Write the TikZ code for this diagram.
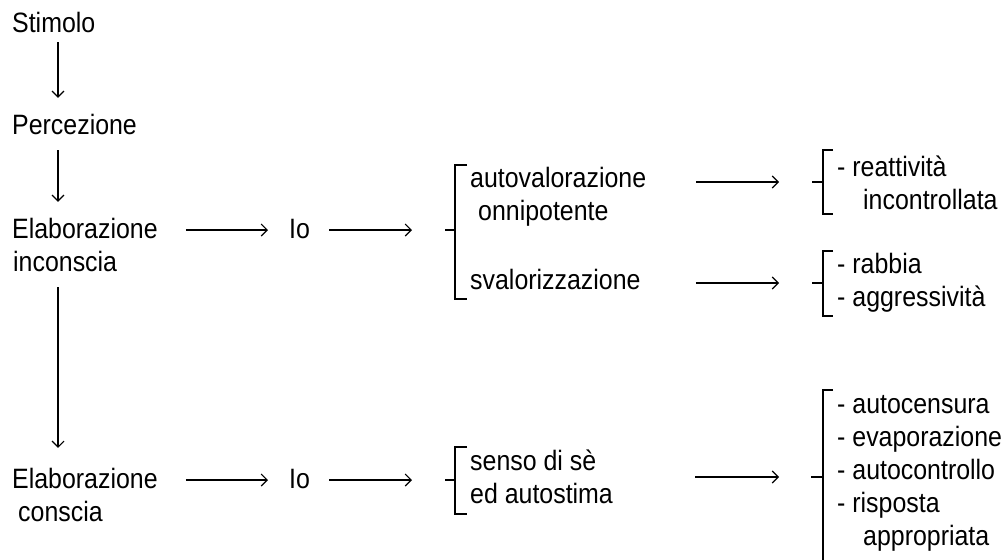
\documentclass[tikz,border=0pt]{standalone}
\usepackage{fontspec}
\setmainfont{Liberation Sans}[FakeStretch=0.89]
\usetikzlibrary{arrows.meta}
\begin{document}
\begin{tikzpicture}[x=1pt,y=-1pt,
  txt/.style={anchor=base west,inner sep=0pt,text height=21pt,text depth=5pt,
    font=\fontsize{28pt}{33pt}\selectfont},
  arr/.style={line width=1.2pt,-{Straight Barb[length=6pt,width=12pt,line width=1.1pt]}},
  brk/.style={line width=1.8pt}]
\useasboundingbox (0,0) rectangle (1005,560);
% left column
\node[txt] (stim)  at (12,32)  {Stimolo};
\node[txt] (perc)  at (12,134) {Percezione};
\node[txt] (elab1) at (12,238) {Elaborazione};
\node[txt] (incon) at (13,271) {inconscia};
\node[txt] (elab2) at (12,488) {Elaborazione};
\node[txt] (consc) at (18,521) {conscia};
% Io
\node[txt] (io1) at (289,238) {Io};
\node[txt] (io2) at (289,488) {Io};
% middle groups
\node[txt] (autoval) at (470,187) {autovalorazione};
\node[txt] (onni)    at (478,220) {onnipotente};
\node[txt] (sval)    at (470,289) {svalorizzazione};
\node[txt] (senso)   at (470,470) {senso di sè};
\node[txt] (autost)  at (470,503) {ed autostima};
% right groups
\node[txt] (reatt)   at (837,176) {- reattività};
\node[txt] (incontr) at (863,209) {incontrollata};
\node[txt] (rabbia)  at (837,273) {- rabbia};
\node[txt] (aggr)    at (837,306) {- aggressività};
\node[txt] (ac1) at (837,413) {- autocensura};
\node[txt] (ac2) at (837,446) {- evaporazione};
\node[txt] (ac3) at (837,479) {- autocontrollo};
\node[txt] (ac4) at (837,512) {- risposta};
\node[txt] (ac5) at (863,545) {appropriata};
% bracket stubs
\coordinate (b1) at (445,230);
\coordinate (b2) at (812,182);
\coordinate (b3) at (812,283);
\coordinate (b4) at (445,480);
\coordinate (b5) at (811,477);
% brackets
\draw[brk] (467,165) -- (455,165) -- (455,299) -- (467,299) (b1) -- (455,230);
\draw[brk] (833,150) -- (823,150) -- (823,214) -- (833,214) (b2) -- (823,182);
\draw[brk] (833,251) -- (823,251) -- (823,316) -- (833,316) (b3) -- (823,283);
\draw[brk] (467,447) -- (455,447) -- (455,514) -- (467,514) (b4) -- (455,480);
\draw[brk] (833,390) -- (823,390) -- (823,575) (b5) -- (823,477);
% vertical arrows
\draw[arr,shorten <=5pt,shorten >=15pt] ([xshift=46pt]stim.south west) -- ([xshift=46pt]perc.north west);
\draw[arr,shorten <=11pt,shorten >=15pt] ([xshift=46pt]perc.south west) -- ([xshift=46pt]elab1.north west);
\draw[arr,shorten <=11pt,shorten >=19pt] ([xshift=45pt]incon.south west) -- ([xshift=46pt]elab2.north west);
% horizontal arrows
\draw[arr,shorten <=28pt,shorten >=21pt] (elab1.east) -- (io1.west);
\draw[arr,shorten <=19pt,shorten >=33pt] (io1.east) -- (b1);
\draw[arr,shorten <=28pt,shorten >=21pt] (elab2.east) -- (io2.west);
\draw[arr,shorten <=19pt,shorten >=33pt] (io2.east) -- (b4);
\draw[arr,shorten <=50pt,shorten >=33pt] (autoval.east |- b2) -- (b2);
\draw[arr,shorten <=55pt,shorten >=33pt] (sval.east |- b3) -- (b3);
\draw[arr,shorten <=99pt,shorten >=32pt] (senso.east |- b5) -- (b5);
\end{tikzpicture}
\end{document}
